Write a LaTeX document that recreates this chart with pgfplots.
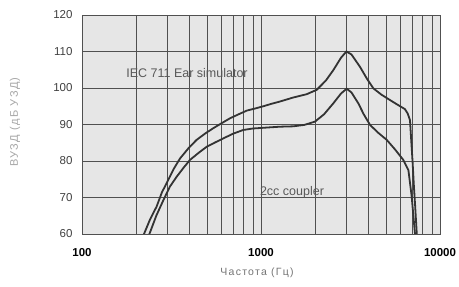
\documentclass[border=0pt]{standalone}
\usepackage{fontspec}
\setmainfont{Liberation Sans}
\newfontfamily\widefont[LetterSpace=12]{Liberation Sans}
\usepackage{pgfplots}
\pgfplotsset{compat=1.18}
\definecolor{bg}{HTML}{E6E6E6}
\definecolor{gridc}{HTML}{505050}
\definecolor{curve}{HTML}{333333}
\begin{document}
\begin{tikzpicture}
\useasboundingbox (-82pt,-53pt) rectangle (377pt,234pt);
\begin{axis}[
  at={(0pt,0pt)}, anchor=south west,
  scale only axis, width=358pt, height=219pt,
  xmode=log, xmin=100, xmax=10000, ymin=60, ymax=120,
  ytick={60,70,...,120},
  xtick={100,1000,10000},
  xticklabels={100,1000,10000},
  log ticks with fixed point,
  /pgf/number format/assume math mode=true,
  axis background/.style={fill=bg},
  axis line style={draw=gridc, line width=0.6pt},
  grid=both,
  major grid style={draw=gridc, line width=0.6pt},
  minor grid style={draw=gridc, line width=0.6pt},
  major tick length=0pt, minor tick length=0pt,
  tick style={draw=none},
  xticklabel style={font=\fontsize{11.5}{12}\selectfont\bfseries, text=black, yshift=-11pt},
  yticklabel style={font=\fontsize{11.5}{12}\selectfont, text=black!75, xshift=-6pt},
  clip=true,
]
\addplot[curve, line width=1.8pt] coordinates {
 (215,58) (222,60) (240,64) (261,67.5) (280,71.5) (297,73.9) (325,77.8) (353,80.7) (395,83.6) (437,85.8) (490,87.6) (542,89) (600,90.3) (671,91.7) (750,92.8) (832,93.8) (930,94.4) (1030,95.0) (1150,95.7) (1277,96.3) (1515,97.4) (1800,98.3) (2047,99.5) (2300,102.0) (2535,104.9) (2800,108.3) (3000,110) (3200,109.2) (3573,105.8) (3900,102.6) (4242,99.9) (4700,98.2) (5255,96.7) (5800,95.4) (6372,94.2) (6600,93.0) (6797,91.2) (6900,86) (7035,79.4) (7150,73) (7250,68.4) (7420,60) (7460,58)
};
\addplot[curve, line width=1.8pt] coordinates {
 (232,58) (238,60) (260,65) (285,69.3) (310,73) (338,75.7) (370,78.2) (401,80.3) (450,82.3) (497,83.9) (555,85.1) (616,86.2) (700,87.5) (796,88.5) (900,88.9) (1030,89.1) (1277,89.4) (1515,89.5) (1750,89.9) (2004,90.8) (2250,92.8) (2535,95.8) (2800,98.5) (3010,99.8) (3200,98.8) (3497,95.8) (3750,92.8) (4064,89.9) (4500,87.8) (5037,85.8) (5600,83.2) (6237,80.3) (6660,77.5) (6800,74) (6950,70.2) (7100,65) (7250,60) (7300,58)
};
\end{axis}
\node[text=black!65, font=\fontsize{12.5}{13}\selectfont] at (105pt,161pt) {IEC 711 Ear simulator};
\node[text=black!65, font=\fontsize{12.5}{13}\selectfont] at (210pt,42pt) {2cc coupler};
\node[text=black!55, font=\widefont\fontsize{10.5}{11}\selectfont] at (175pt,-39pt) {Частота (Гц)};
\node[text=black!35, font=\widefont\fontsize{11}{12}\selectfont, rotate=90] at (-67pt,112pt) {ВУЗД (дБ УЗД)};
\end{tikzpicture}
\end{document}
